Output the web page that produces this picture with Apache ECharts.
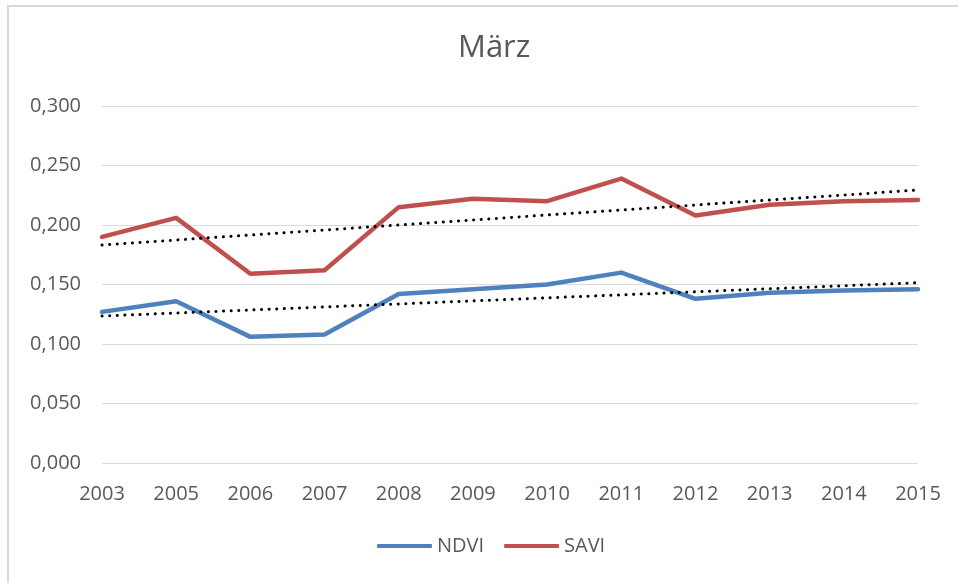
<!DOCTYPE html>
<html lang="de">
<head>
    <meta charset="UTF-8">
    <title>März</title>
    <script src="https://cdn.jsdelivr.net/npm/echarts@6/dist/echarts.min.js"></script>
    <style>
        html, body { margin: 0; padding: 0; background: #fff; }
        #chart { width: 958px; height: 583px; }
    </style>
</head>
<body>
    <div id="chart"></div>
    <script type="text/javascript">
        // Daten
        var years = ['2003', '2005', '2006', '2007', '2008', '2009', '2010', '2011', '2012', '2013', '2014', '2015'];
        var ndvi = [0.127, 0.136, 0.106, 0.108, 0.142, 0.146, 0.150, 0.160, 0.138, 0.143, 0.145, 0.146];
        var savi = [0.190, 0.206, 0.159, 0.162, 0.215, 0.222, 0.220, 0.239, 0.208, 0.217, 0.220, 0.221];
        // Trendlinien: Wert am Anfang (2003) und Ende (2015)
        var ndviTrend = [0.1235, 0.1515];
        var saviTrend = [0.1832, 0.2294];

        var font = '"Open Sans", "Noto Sans", sans-serif';
        var chart = echarts.init(document.getElementById('chart'));

        function trendData(t) {
            return [[years[0], t[0]], [years[years.length - 1], t[1]]];
        }

        var option = {
            backgroundColor: '#fff',
            animation: false,
            title: {
                text: 'März',
                left: 453,
                top: 28,
                textStyle: { color: '#595959', fontSize: 31, fontWeight: 'normal', fontFamily: font }
            },
            graphic: [{
                type: 'rect',
                shape: { x: 8, y: 6, width: 970, height: 600 },
                style: { fill: 'none', stroke: '#d9d9d9', lineWidth: 2 },
                silent: true
            }],
            grid: { left: 102, right: 40, top: 106, bottom: 120 },
            legend: {
                data: ['NDVI', 'SAVI'],
                bottom: 27,
                left: 377,
                padding: 0,
                icon: 'roundRect',
                itemWidth: 55,
                itemHeight: 4,
                itemGap: 20,
                textStyle: { color: '#595959', fontSize: 20, fontFamily: font }
            },
            xAxis: {
                type: 'category',
                data: years,
                boundaryGap: false,
                axisLine: { show: false },
                axisTick: { show: false },
                axisLabel: { color: '#595959', fontSize: 20, fontFamily: font, margin: 21 }
            },
            yAxis: {
                type: 'value',
                min: 0,
                max: 0.3,
                interval: 0.05,
                axisLine: { show: false },
                axisTick: { show: false },
                splitLine: { lineStyle: { color: '#d9d9d9', width: 1 } },
                axisLabel: {
                    color: '#595959', fontSize: 20, fontFamily: font, margin: 21,
                    formatter: function (v) { return v.toFixed(3).replace('.', ','); }
                }
            },
            series: [{
                name: 'NDVI',
                type: 'line',
                data: ndvi,
                symbol: 'none',
                lineStyle: { color: '#4f81bd', width: 4.5, cap: 'round', join: 'round' },
                itemStyle: { color: '#4f81bd' },
                z: 3
            }, {
                name: 'SAVI',
                type: 'line',
                data: savi,
                symbol: 'none',
                lineStyle: { color: '#c0504d', width: 4.5, cap: 'round', join: 'round' },
                itemStyle: { color: '#c0504d' },
                z: 3
            }, {
                name: 'Trend NDVI',
                type: 'line',
                data: trendData(ndviTrend),
                symbol: 'none',
                lineStyle: { color: '#000', width: 3, type: [0.1, 7.5], cap: 'round' },
                z: 4
            }, {
                name: 'Trend SAVI',
                type: 'line',
                data: trendData(saviTrend),
                symbol: 'none',
                lineStyle: { color: '#000', width: 3, type: [0.1, 7.5], cap: 'round' },
                z: 4
            }]
        };

        chart.setOption(option);
    </script>
</body>
</html>
